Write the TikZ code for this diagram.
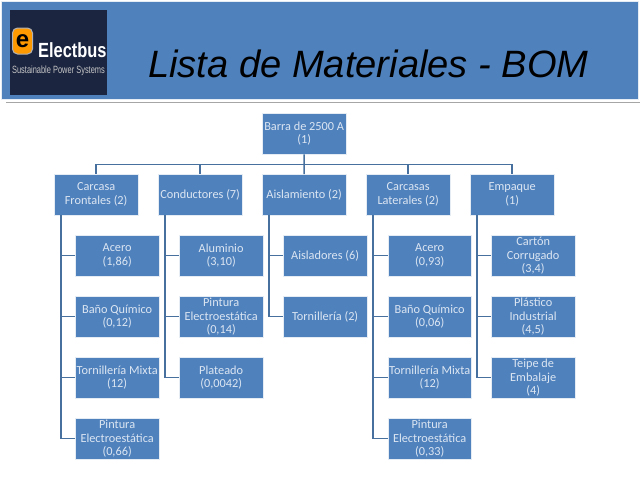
\documentclass[tikz,border=0pt]{standalone}
\usepackage{fontspec}
\setmainfont{Carlito}
\newfontfamily\titlefont{Liberation Sans}
\usepackage{xcolor}
\usetikzlibrary{positioning}
\definecolor{boxblue}{HTML}{4F81BD}
\definecolor{boxedge}{HTML}{E6ECF4}
\definecolor{linkblue}{HTML}{47709F}
\definecolor{boxtext}{HTML}{DCE6F2}
\definecolor{logonavy}{HTML}{1B2540}
\tikzset{
	part/.style = {
		draw=boxedge, line width=0.8pt, fill=boxblue, text=boxtext, align=center,
		minimum width=83.5pt, minimum height=40.5pt, inner sep=0pt,
		font=\fontsize{12.3}{13.7}\selectfont
	}
}
\tikzset{
	link/.style = {
		draw=linkblue, line width=1.5pt
	}
}
\begin{document}
\begin{tikzpicture}[x=1pt, y=1pt]
	\useasboundingbox (0,0) rectangle (640,-480);
	% header
	\node[draw=boxedge, fill=boxblue, minimum width=637pt, minimum height=98pt, inner sep=0pt, anchor=north west](Header) at (1,-1){};
	\draw[gray!70, line width=1pt] (6,-102.5) -- (640,-102.5);
	\node[fill=logonavy, minimum width=97pt, minimum height=85pt, inner sep=0pt, anchor=north west](Logo) at (10,-10){};
	\node[draw=gray!60, line width=1pt, fill=orange!80!yellow, rounded corners=5pt, minimum width=20pt, minimum height=26pt, inner sep=0pt](LogoMark) at (22.5,-41){\titlefont\bfseries\fontsize{24}{24}\selectfont\textcolor{black}{e}};
	\node[text=white, inner sep=0pt, font=\titlefont\bfseries\fontsize{20.5}{20.5}\selectfont, anchor=base west, xscale=0.8](LogoName) at (38,-57){Electbus};
	\node[text=gray!45, inner sep=0pt, font=\titlefont\fontsize{10.5}{10.5}\selectfont, xscale=0.71](LogoText) at (58.5,-71){Sustainable Power Systems};
	\node[inner sep=0pt, anchor=base west, font=\titlefont\itshape\fontsize{38.1}{38.1}\selectfont](Title) at (148,-77){Lista de Materiales - BOM};
	% top level
	\node[part, anchor=north west](Barra) at (262,-113){Barra de 2500 A\\(1)};
	% second level
	\node[part, anchor=north west](Frontales) at (54,-174){Carcasa\\Frontales (2)};
	\node[part, right=19.7pt of Frontales](Conductores){Conductores (7)};
	\node[part, right=19.7pt of Conductores](Aislamiento){Aislamiento (2)};
	\node[part, right=19.7pt of Aislamiento](Laterales){Carcasas\\Laterales (2)};
	\node[part, right=19.7pt of Laterales](Empaque){Empaque\\(1)};
	% Carcasa Frontales
	\node[part, anchor=north west](AceroF) at (75,-235){Acero\\(1,86)};
	\node[part, below=19.7pt of AceroF](BanoF){Baño Químico\\(0,12)};
	\node[part, below=19.7pt of BanoF](TornF){Tornillería Mixta\\(12)};
	\node[part, below=19.7pt of TornF](PintF){Pintura\\Electroestática\\(0,66)};
	% Conductores
	\node[part, anchor=north west](Aluminio) at (179,-235){Aluminio\\(3,10)};
	\node[part, below=19.7pt of Aluminio](PintC){Pintura\\Electroestática\\(0,14)};
	\node[part, below=19.7pt of PintC](Plateado){Plateado\\(0,0042)};
	% Aislamiento
	\node[part, anchor=north west](Aisladores) at (283,-235){Aisladores (6)};
	\node[part, below=19.7pt of Aisladores](TornA){Tornillería (2)};
	% Carcasas Laterales
	\node[part, anchor=north west](AceroL) at (387.5,-235){Acero\\(0,93)};
	\node[part, below=19.7pt of AceroL](BanoL){Baño Químico\\(0,06)};
	\node[part, below=19.7pt of BanoL](TornL){Tornillería Mixta\\(12)};
	\node[part, below=19.7pt of TornL](PintL){Pintura\\Electroestática\\(0,33)};
	% Empaque
	\node[part, anchor=north west](Carton) at (491,-235){Cartón\\Corrugado\\(3,4)};
	\node[part, below=19.7pt of Carton](Plastico){Plástico\\Industrial\\(4,5)};
	\node[part, below=19.7pt of Plastico](Teipe){Teipe de\\Embalaje\\(4)};
	% top level links
	\draw[link] (Barra.south) -- (Aislamiento.north);
	\draw[link] (Barra.south) ++(0,-10) -| (Frontales.north);
	\draw[link] (Barra.south) ++(0,-10) -| (Conductores.north);
	\draw[link] (Barra.south) ++(0,-10) -| (Laterales.north);
	\draw[link] (Barra.south) ++(0,-10) -| (Empaque.north);
	% branches
	\draw[link] (Frontales.south west) ++(7,0) |- (AceroF.west);
	\draw[link] (Frontales.south west) ++(7,0) |- (BanoF.west);
	\draw[link] (Frontales.south west) ++(7,0) |- (TornF.west);
	\draw[link] (Frontales.south west) ++(7,0) |- (PintF.west);
	\draw[link] (Conductores.south west) ++(7,0) |- (Aluminio.west);
	\draw[link] (Conductores.south west) ++(7,0) |- (PintC.west);
	\draw[link] (Conductores.south west) ++(7,0) |- (Plateado.west);
	\draw[link] (Aislamiento.south west) ++(7,0) |- (Aisladores.west);
	\draw[link] (Aislamiento.south west) ++(7,0) |- (TornA.west);
	\draw[link] (Laterales.south west) ++(7,0) |- (AceroL.west);
	\draw[link] (Laterales.south west) ++(7,0) |- (BanoL.west);
	\draw[link] (Laterales.south west) ++(7,0) |- (TornL.west);
	\draw[link] (Laterales.south west) ++(7,0) |- (PintL.west);
	\draw[link] (Empaque.south west) ++(7,0) |- (Carton.west);
	\draw[link] (Empaque.south west) ++(7,0) |- (Plastico.west);
	\draw[link] (Empaque.south west) ++(7,0) |- (Teipe.west);
\end{tikzpicture}
\end{document}
